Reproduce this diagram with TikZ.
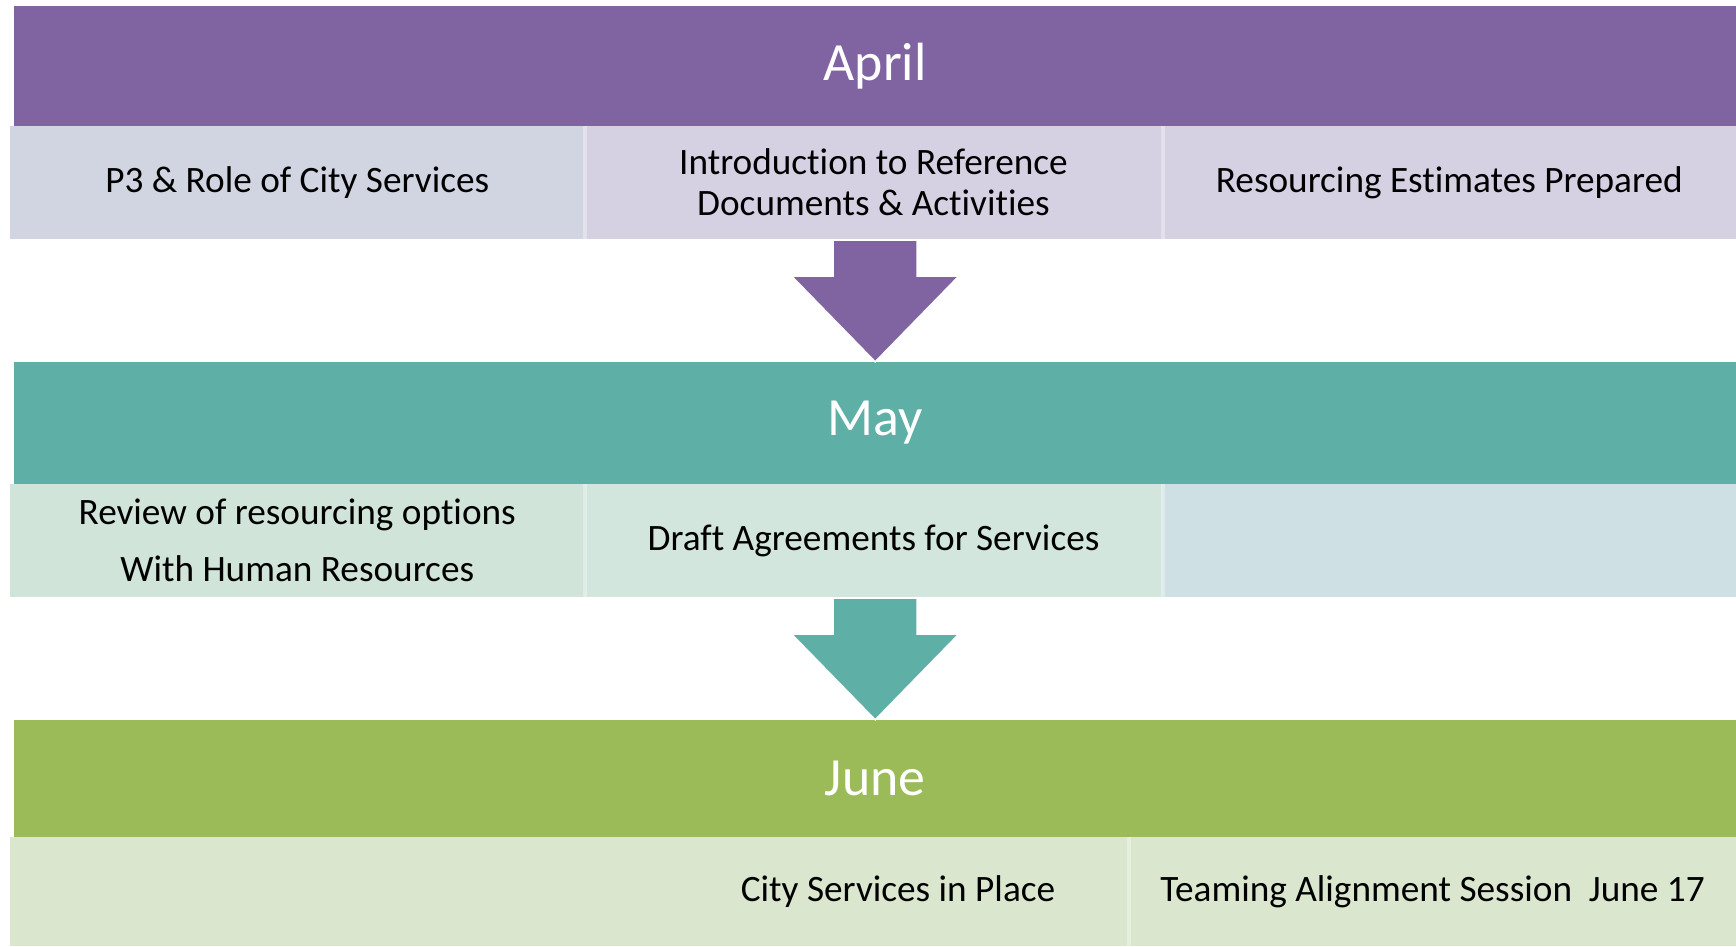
\documentclass[tikz,border=0pt]{standalone}
\usepackage{fontspec}
\setmainfont[Ligatures={NoCommon,NoRare,NoContextual}]{Carlito}
\usetikzlibrary{calc}
\definecolor{apurple}{RGB}{128,100,162}
\definecolor{mteal}{RGB}{94,175,166}
\definecolor{jgreen}{RGB}{155,187,89}
\definecolor{acellA}{RGB}{208,213,225}
\definecolor{acellB}{RGB}{214,208,227}
\definecolor{mcellA}{RGB}{208,228,217}
\definecolor{mcellB}{RGB}{211,230,222}
\definecolor{mcellC}{RGB}{207,224,228}
\definecolor{jcell}{RGB}{218,230,205}
\begin{document}
\begin{tikzpicture}[x=1bp,y=-1bp,
  band/.style={fill=#1, draw=none, minimum width=1721.6bp, inner sep=0pt,
    text=white, font=\fontsize{54}{60}\selectfont},
  cell/.style={fill=#1, draw=none, inner sep=0pt, align=center,
    font=\fontsize{37.4}{41}\selectfont},
  celltext/.style={inner sep=0pt, align=center, font=\fontsize{37.4}{41}\selectfont},
  divider/.style={draw=white, draw opacity=0.35, line width=4bp},
  blockarrow/.style={fill=#1, draw=white, line width=1.5bp, line join=miter}]
\useasboundingbox (0,0) rectangle (1736,946);
\fill[white] (0,0) rectangle (1736,946);
% April
\node[band=apurple, minimum height=120.5bp] (april) at (875.2,65.75) {April};
\node[cell=acellA, minimum width=574.5bp, minimum height=113bp] (acell1) at (297.25,182.5) {P3 \& Role of City Services};
\node[cell=acellB, minimum width=578bp, minimum height=113bp] (acell2) at (873.5,182.5) {Introduction to Reference\\Documents \& Activities};
\node[cell=acellB, minimum width=573.5bp, minimum height=113bp] (acell3) at (1449.25,182.5) {Resourcing Estimates Prepared};
\draw[divider] (acell1.north east) -- (acell1.south east);
\draw[divider] (acell2.north east) -- (acell2.south east);
% May
\node[band=mteal, minimum height=122bp] (may) at (875.2,423) {May};
\node[cell=mcellA, minimum width=574.5bp, minimum height=113bp, font=\fontsize{37.4}{57}\selectfont] (mcell1) at (297.25,540.5) {Review of resourcing options\\With Human Resources};
\node[cell=mcellB, minimum width=578bp, minimum height=113bp] (mcell2) at (873.5,540.5) {Draft Agreements for Services};
\node[cell=mcellC, minimum width=573.5bp, minimum height=113bp] (mcell3) at (1449.25,540.5) {};
\draw[divider] (mcell1.north east) -- (mcell1.south east);
\draw[divider] (mcell2.north east) -- (mcell2.south east);
% June
\node[band=jgreen, minimum height=116.5bp] (june) at (875.2,778.25) {June};
\node[cell=jcell, minimum width=1119bp, minimum height=109bp] (jcell1) at (569.5,891.5) {};
\node[cell=jcell, minimum width=607bp, minimum height=109bp] (jcell2) at (1432.5,891.5) {Teaming Alignment Session\ \ June 17};
\node[celltext] (jtext1) at (898,891.5) {City Services in Place};
\draw[divider] (jcell1.north east) -- (jcell1.south east);
% Arrows
\coordinate (a1) at (may.north |- acell2.south);
\draw[blockarrow=apurple] ($(a1)+(-42,1)$) -- ($(a1)+(42,1)$) -- ($(a1)+(42,37)$)
  -- ($(a1)+(83.5,37)$) -- (may.north) -- ($(a1)+(-83.5,37)$) -- ($(a1)+(-42,37)$) -- cycle;
\coordinate (a2) at (june.north |- mcell2.south);
\draw[blockarrow=mteal] ($(a2)+(-42,1)$) -- ($(a2)+(42,1)$) -- ($(a2)+(42,37)$)
  -- ($(a2)+(83.5,37)$) -- (june.north) -- ($(a2)+(-83.5,37)$) -- ($(a2)+(-42,37)$) -- cycle;
\end{tikzpicture}
\end{document}
